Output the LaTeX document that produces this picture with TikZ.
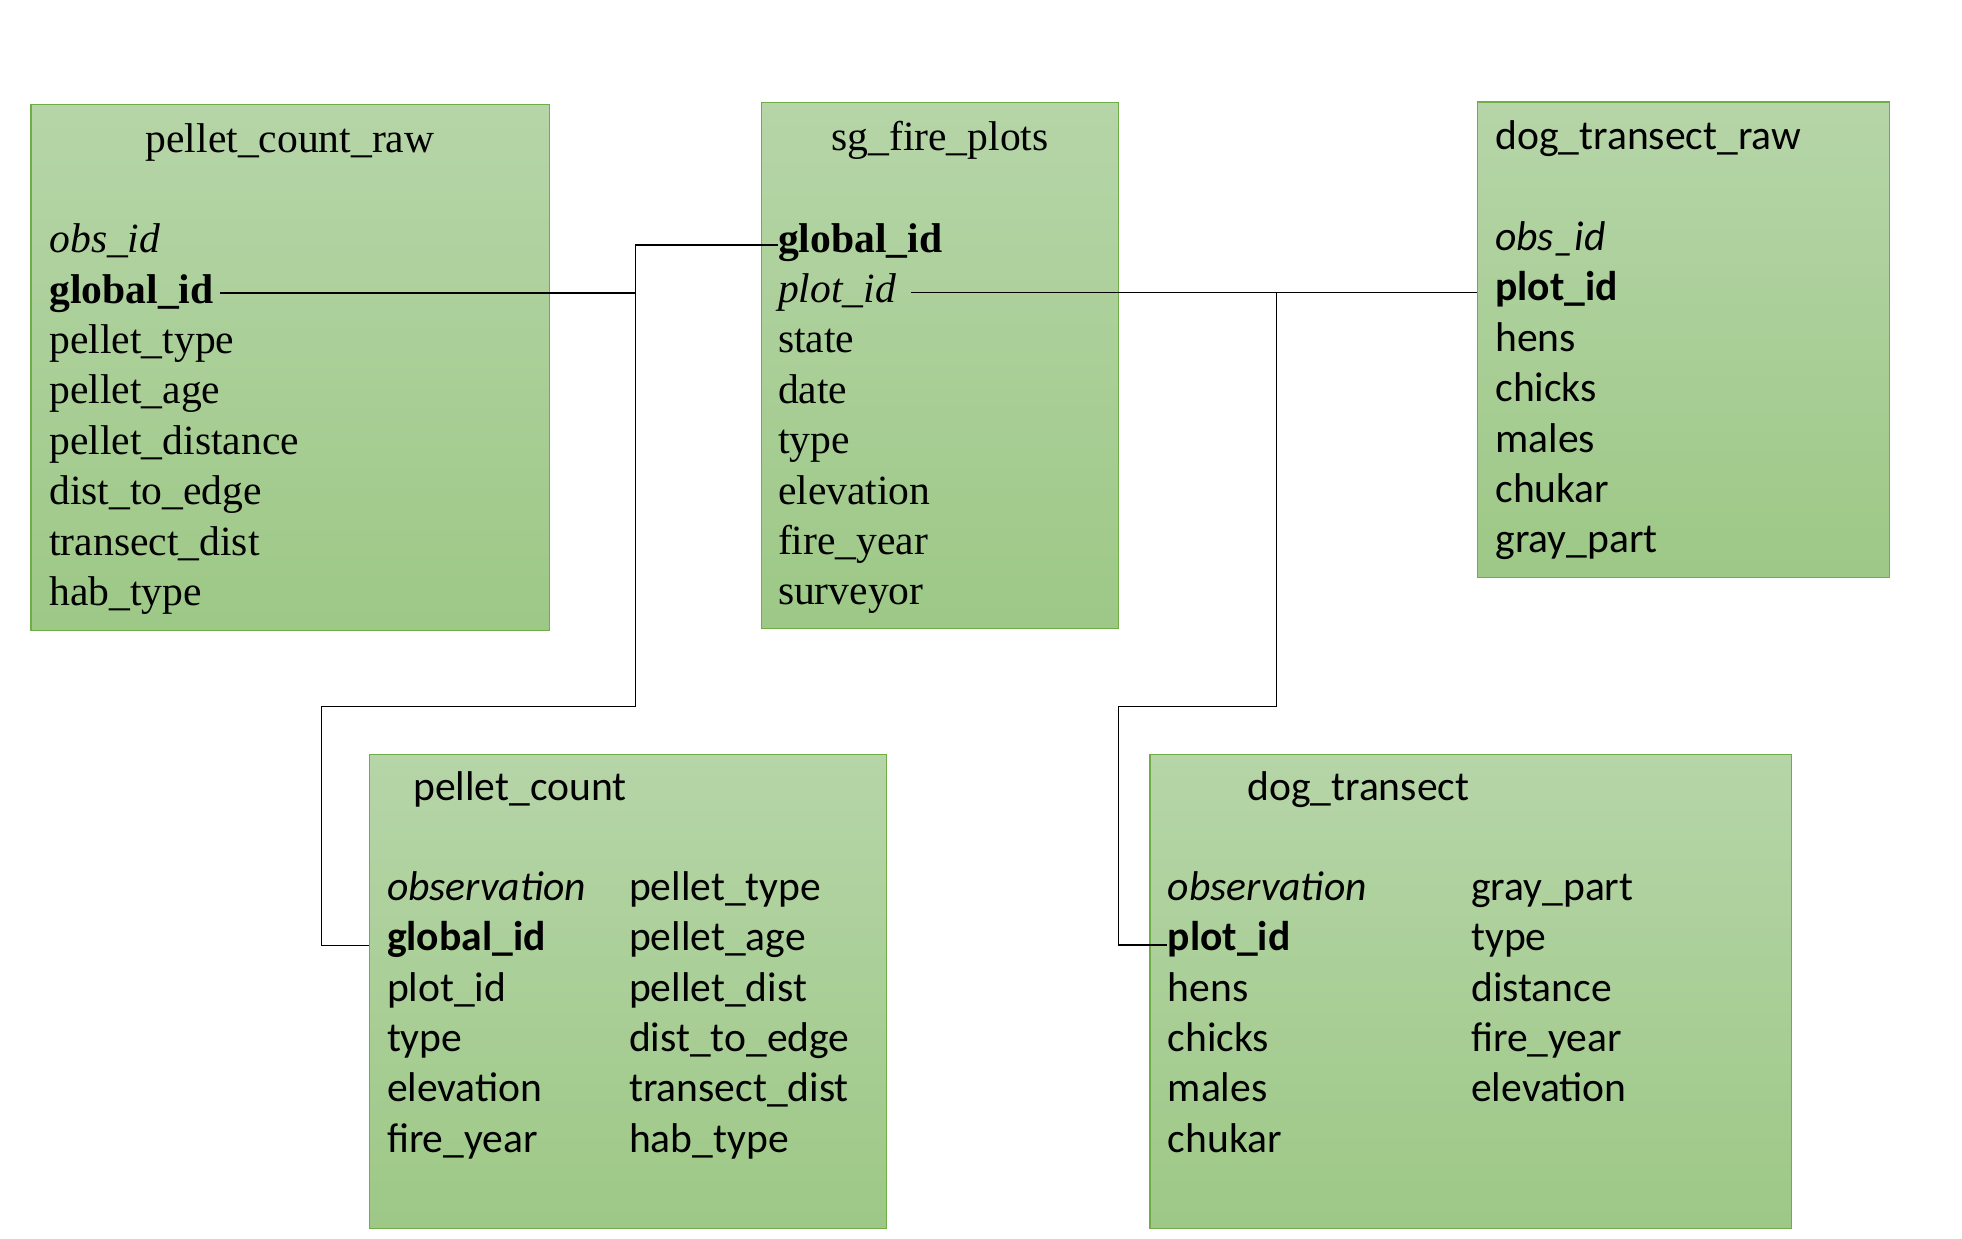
\documentclass[tikz,border=0pt]{standalone}
\usepackage{fontspec}
\setmainfont{Liberation Serif}
\newfontfamily\calib{Carlito}
\usetikzlibrary{fit,calc}
\definecolor{gtop}{RGB}{182,213,168}
\definecolor{gbot}{RGB}{157,200,134}
\definecolor{gedge}{RGB}{112,173,71}
\begin{document}
\begin{tikzpicture}[x=0.5pt,y=-0.5pt,
  tbl/.style={draw=gedge, line width=0.6pt, top color=gtop, bottom color=gbot, inner sep=0pt, rectangle},
  fld/.style={inner sep=0pt, anchor=base west, font=\fontsize{20.8}{25}\selectfont},
  ttl/.style={inner sep=0pt, anchor=base, font=\fontsize{20.8}{25}\selectfont},
  cfld/.style={inner sep=0pt, anchor=base west, font=\fontsize{20.8}{25}\selectfont\calib},
  conn/.style={draw=black, line width=0.75pt}]
\useasboundingbox (0,0) rectangle (1962,1238);

% ---------- boxes ----------
\node[tbl, fit={(31,104.3) (549.3,630.3)}] (pcr) {};
\node[tbl, fit={(761.7,102.3) (1118.6,628.4)}] (sg) {};
\node[tbl, fit={(1477.7,101.9) (1889.4,577.5)}] (dtr) {};
\node[tbl, fit={(369.3,754.7) (886.5,1228.8)}] (pc) {};
\node[tbl, fit={(1149.9,754.7) (1791.2,1228.8)}] (dt) {};

% ---------- pellet_count_raw ----------
\node[ttl] (pcrt) at (290,152) {pellet\_count\_raw};
\node[fld] (pcro) at (49,252.5) {\textit{obs\_id}};
\node[fld] (pcrgid) at (49,303) {\textbf{global\_id}};
\node[fld] (pcr3) at (49,353.4) {pellet\_type};
\node[fld] (pcr4) at (49,403.8) {pellet\_age};
\node[fld] (pcr5) at (49,454.2) {pellet\_distance};
\node[fld] (pcr6) at (49,504.6) {dist\_to\_edge};
\node[fld] (pcr7) at (49,555) {transect\_dist};
\node[fld] (pcr8) at (49,605.4) {hab\_type};

% ---------- sg_fire_plots ----------
\node[ttl] (sgt) at (940,150) {sg\_fire\_plots};
\node[fld] (sggid) at (777.6,252) {\textbf{global\_id}};
\node[fld] (sgpid) at (777.6,302.4) {\textit{plot\_id}};
\node[fld] (sg3) at (777.6,352.8) {state};
\node[fld] (sg4) at (777.6,403.2) {date};
\node[fld] (sg5) at (777.6,453.6) {type};
\node[fld] (sg6) at (777.6,504) {elevation};
\node[fld] (sg7) at (777.6,554.4) {fire\_year};
\node[fld] (sg8) at (777.6,604.8) {surveyor};

% ---------- dog_transect_raw ----------
\node[cfld] (dtrt) at (1495,149.4) {dog\_transect\_raw};
\node[cfld] (dtr1) at (1495,250.5) {\textit{obs\_id}};
\node[cfld] (dtrpid) at (1495,300.9) {\textbf{plot\_id}};
\node[cfld] (dtr3) at (1495,351.3) {hens};
\node[cfld] (dtr4) at (1495,401.7) {chicks};
\node[cfld] (dtr5) at (1495,452.1) {males};
\node[cfld] (dtr6) at (1495,502.5) {chukar};
\node[cfld] (dtr7) at (1495,552.9) {gray\_part};

% ---------- pellet_count ----------
\node[cfld] (pct) at (412.9,800.5) {pellet\_count};
\node[cfld] (pc1) at (386.6,900.5) {\textit{observation}};
\node[cfld] (pcgid) at (386.6,950.8) {\textbf{global\_id}};
\node[cfld] (pc3) at (386.6,1001.1) {plot\_id};
\node[cfld] (pc4) at (386.6,1051.4) {type};
\node[cfld] (pc5) at (386.6,1101.7) {elevation};
\node[cfld] (pc6) at (386.6,1152) {fire\_year};
\node[cfld] (pc7) at (628.7,900.5) {pellet\_type};
\node[cfld] (pc8) at (628.7,950.8) {pellet\_age};
\node[cfld] (pc9) at (628.7,1001.1) {pellet\_dist};
\node[cfld] (pc10) at (628.7,1051.4) {dist\_to\_edge};
\node[cfld] (pc11) at (628.7,1101.7) {transect\_dist};
\node[cfld] (pc12) at (628.7,1152) {hab\_type};

% ---------- dog_transect ----------
\node[cfld] (dtt) at (1246.9,800.5) {dog\_transect};
\node[cfld] (dt1) at (1167.4,900.5) {\textit{observation}};
\node[cfld] (dtpid) at (1167.4,950.8) {\textbf{plot\_id}};
\node[cfld] (dt3) at (1167.4,1001.1) {hens};
\node[cfld] (dt4) at (1167.4,1051.4) {chicks};
\node[cfld] (dt5) at (1167.4,1101.7) {males};
\node[cfld] (dt6) at (1167.4,1152) {chukar};
\node[cfld] (dt7) at (1470.8,900.5) {gray\_part};
\node[cfld] (dt8) at (1470.8,950.8) {type};
\node[cfld] (dt9) at (1470.8,1001.1) {distance};
\node[cfld] (dt10) at (1470.8,1051.4) {fire\_year};
\node[cfld] (dt11) at (1470.8,1101.7) {elevation};

% ---------- connectors ----------
\coordinate (lx) at (635.7,706.7);
\coordinate (lb) at (321.3,706.7);
\coordinate (rx) at (1276.3,706.7);
\coordinate (rb) at (1118.6,706.7);

\draw[conn] ([xshift=3pt]pcrgid.east) -- (pcrgid.east -| lx);
\draw[conn] ([yshift=-1.5pt]sggid.west) -| (lx) -- (lb) |- ([yshift=-2.8pt]pcgid.west -| pc.west);

\draw[conn] ([xshift=7.5pt]sgpid.east) -- (sgpid.east -| dtr.west);
\draw[conn] (sgpid.east -| rx) -- (rx) -- (rb) |- ([yshift=-2.8pt]dtpid.west);
\end{tikzpicture}
\end{document}
